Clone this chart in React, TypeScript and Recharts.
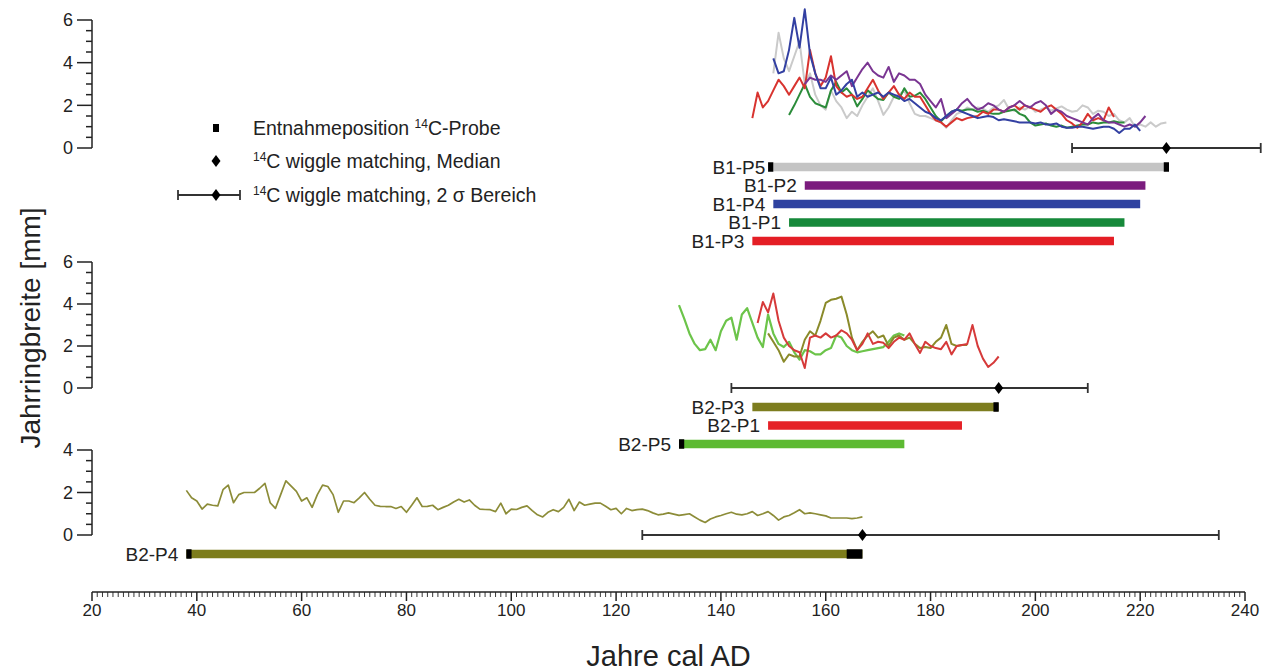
import React from 'react';
import {
  ComposedChart,
  Line,
  XAxis,
  YAxis,
  ReferenceLine,
  ReferenceDot,
  LabelList,
} from 'recharts';

document.body.style.margin = '0';

const W = 1271;
const H = 672;
const PLOT_LEFT = 92;
const PLOT_RIGHT = 1245;
const AXIS_Y = 592;
const X_AXIS_H = 76;
const FONT = '"Liberation Sans", Arial, Helvetica, sans-serif';
const INK = '#222';

// axis ticks
const yearLabels = [20, 40, 60, 80, 100, 120, 140, 160, 180, 200, 220, 240];
const yearMinorStep = 1;
const mmTicks6 = [0, 0.5, 1, 1.5, 2, 2.5, 3, 3.5, 4, 4.5, 5, 5.5, 6];
const mmTicks4 = [0, 0.5, 1, 1.5, 2, 2.5, 3, 3.5, 4];
const mmLabels = [0, 2, 4, 6];

// ring widths [mm], one value per year from the start year
const b1p5Start = 150;
const b1p5Values = [
  3.5, 5.4, 4.2, 3.6, 4.3, 5.0, 3.0, 3.5, 2.5, 2.0,
  1.8, 2.7, 2.2, 1.9, 1.4, 1.7, 1.5, 2.0, 2.4, 2.8,
  2.2, 1.55, 1.9, 2.4, 2.5, 2.7, 2.1, 1.6, 1.5, 1.5,
  1.4, 1.3, 1.2, 0.95, 1.3, 1.6, 1.7, 1.9, 1.8, 1.9,
  1.85, 1.7, 1.9, 2.0, 2.25, 1.8, 1.75, 1.9, 1.8, 1.95,
  1.7, 1.8, 1.9, 1.75, 1.85, 1.95, 1.8, 1.7, 1.75, 2.0,
  1.9, 1.6, 1.75, 1.7, 1.5, 1.6, 1.3, 1.2, 1.4, 1.0,
  1.1, 1.0, 1.2, 1.0, 1.15, 1.2,
];
const b1p2Start = 156;
const b1p2Values = [
  3.0, 3.3, 3.2, 3.2, 3.1, 3.4, 3.2, 3.4, 3.6, 2.9,
  3.3, 3.7, 4.0, 3.6, 3.4, 3.3, 3.8, 3.1, 3.5, 3.4,
  3.2, 3.2, 3.0, 2.5, 2.2, 1.9, 2.3, 1.4, 1.6, 1.8,
  2.1, 2.3, 2.0, 1.8, 1.9, 2.1, 2.0, 1.8, 1.7, 1.9,
  2.0, 2.2, 2.0, 1.9, 2.1, 2.2, 2.0, 1.6, 1.8, 1.7,
  1.5, 1.4, 1.3, 1.2, 1.1, 1.4, 1.6, 1.3, 1.2, 1.2,
  1.1, 1.0, 1.1, 1.0, 1.2, 1.5,
];
const b1p4Start = 150;
const b1p4Values = [
  4.2, 3.5, 3.6, 4.6, 6.1, 4.7, 6.5, 4.4, 3.5, 2.8,
  2.8, 3.3, 2.5, 2.7, 3.0, 3.2, 2.4, 2.6, 2.4, 2.5,
  2.6, 2.4, 2.6, 2.5, 2.4, 2.2, 2.3, 2.1, 1.9, 1.7,
  1.6, 1.4, 1.3, 1.5, 1.7, 1.8, 1.7, 1.6, 1.5, 1.4,
  1.45, 1.5, 1.45, 1.3, 1.35, 1.3, 1.25, 1.2, 1.2, 1.2,
  1.15, 1.2, 1.1, 1.1, 1.15, 1.0, 0.95, 0.95, 1.0, 1.0,
  0.95, 0.9, 0.95, 1.0, 1.0, 0.9, 0.7, 0.9, 0.9, 1.1,
  0.8,
];
const b1p1Start = 153;
const b1p1Values = [
  1.55, 2.0, 2.5, 3.0, 2.4, 2.1, 2.0,
  1.9, 2.7, 3.1, 2.6, 2.8, 2.5, 1.95, 2.3, 2.7, 2.5,
  2.3, 2.25, 2.6, 2.4, 2.3, 2.8, 2.4, 2.45, 2.6, 2.3,
  1.9, 1.5, 1.25, 1.5, 1.7, 1.8, 1.75, 1.8, 1.8, 1.7,
  1.75, 1.65, 1.6, 1.6, 1.7, 1.75, 1.8, 1.6, 1.5, 1.2,
  1.05, 1.1, 1.15, 1.05, 1.0, 1.05, 0.95, 1.0, 1.05, 1.1,
  1.1, 1.2, 1.15, 1.2, 1.2, 1.25, 1.2, 1.2,
];
const b1p3Start = 146;
const b1p3Values = [
  1.4, 2.6, 1.9, 2.2,
  2.7, 3.2, 2.9, 2.5, 2.9, 3.3, 2.8, 4.6, 3.5, 2.9,
  3.3, 4.3, 2.9, 2.6, 2.4, 2.5, 2.3, 2.4, 2.8, 3.2,
  2.7, 2.3, 2.6, 2.9, 2.5, 2.3, 2.6, 2.4, 2.4, 2.0,
  1.6, 1.3, 1.2, 1.0, 1.2, 1.4, 1.3, 1.4, 1.45, 1.5,
  1.7, 1.6, 1.8, 1.8, 1.7, 1.9, 2.0, 1.8, 2.0, 1.9,
  1.8, 1.7, 1.9, 2.0, 1.8, 1.6, 1.3, 1.15, 0.95, 1.2,
  1.6, 1.3, 1.4, 1.3, 1.9, 1.45,
];
const b2p5Start = 132;
const b2p5Values = [
  3.95, 3.3, 2.6, 2.1, 1.8, 1.85, 2.3, 1.8,
  2.7, 3.2, 3.35, 2.3, 3.5, 3.8, 3.1, 2.4, 1.95, 3.5,
  2.6, 2.1, 1.95, 2.2, 1.7, 1.35, 1.8, 1.75, 1.6, 1.6,
  1.8, 1.9, 2.5, 2.4, 2.0, 1.8, 1.7, 1.75, 1.8, 1.85,
  1.9, 1.95, 2.2, 2.5, 2.6, 2.5,
];
const b2p3Start = 149;
const b2p3Values = [
  2.6,
  2.2, 1.8, 1.25, 1.6, 1.5, 1.5, 2.3, 2.7, 2.5, 3.2,
  4.05, 4.2, 4.25, 4.35, 3.5, 2.4, 1.8, 2.2, 2.5, 2.7,
  2.4, 2.5, 2.0, 2.4, 2.5, 2.3, 2.4, 2.1, 1.9, 1.95,
  1.9, 2.2, 2.4, 3.0, 2.1, 2.0, 2.05, 2.05,
];
const b2p1Start = 147;
const b2p1Values = [
  3.1, 4.1, 3.6,
  4.5, 3.2, 2.4, 2.0, 1.8, 1.7, 0.95, 2.4, 2.5, 2.4,
  2.6, 2.4, 2.5, 2.75, 2.6, 2.3, 1.8, 2.1, 2.6, 2.1,
  2.2, 2.15, 1.9, 2.2, 2.4, 2.3, 2.6, 2.1, 1.67, 2.2,
  2.0, 1.9, 1.85, 2.2, 1.6, 2.0, 2.05, 2.1, 3.0, 2.0,
  1.4, 1.0, 1.2, 1.5,
];
const b2p4Start = 38;
const b2p4Values = [
  2.1, 1.75,
  1.6, 1.22, 1.45, 1.4, 1.37, 2.13, 2.35, 1.52, 1.9, 2.0,
  2.0, 2.0, 2.2, 2.43, 1.52, 1.25, 1.9, 2.55, 2.3, 2.05,
  1.6, 1.75, 1.3, 1.9, 2.35, 2.28, 1.9, 1.07, 1.6, 1.6,
  1.52, 1.75, 2.0, 1.68, 1.4, 1.35, 1.34, 1.34, 1.25, 1.34,
  1.07, 1.4, 1.75, 1.34, 1.35, 1.4, 1.19, 1.3, 1.4, 1.55,
  1.68, 1.55, 1.65, 1.4, 1.22, 1.2, 1.19, 1.1, 1.5, 1.0,
  1.22, 1.2, 1.3, 1.37, 1.15, 0.95, 0.85, 1.07, 1.19, 1.1,
  1.3, 1.68, 1.15, 1.55, 1.4, 1.45, 1.5, 1.5, 1.35, 1.19,
  1.25, 1.0, 1.25, 1.15, 1.19, 1.22, 1.15, 1.04, 0.95, 0.98,
  1.04, 0.98, 0.92, 0.96, 1.0, 0.85, 0.7, 0.59, 0.75, 0.85,
  0.92, 1.0, 1.07, 0.98, 0.95, 1.0, 1.1, 0.92, 1.0, 1.1,
  0.92, 0.7, 0.85, 0.92, 1.05, 1.19, 1.0, 1.04, 1.0, 0.95,
  0.9, 0.8, 0.8, 0.8, 0.8, 0.77, 0.8, 0.85,
];

// dated spans of the samples (years AD)
const b1Names = ['B1-P5', 'B1-P2', 'B1-P4', 'B1-P1', 'B1-P3'];
const b1From = [150, 156, 150, 153, 146];
const b1To = [225, 221, 220, 217, 215];
const b2Names = ['B2-P3', 'B2-P1', 'B2-P5'];
const b2From = [146, 149, 132];
const b2To = [193, 186, 175];
const b3Names = ['B2-P4'];
const b3From = [38];
const b3To = [167];

// 14C sample positions [from, to] per row
const b1Samples: [number, number][][] = [[[149, 150], [224.5, 225.5]], [], [], [], []];
const b2Samples: [number, number][][] = [[[192, 193]], [], [[132, 133]]];
const b3Samples: [number, number][][] = [[[38, 39], [164, 167]]];

// 14C wiggle matching: median and 2 sigma range per panel
const wmMedian = [225, 193, 167];
const wmLow = [207, 142, 125];
const wmHigh = [243, 210, 235];

const toSeries = (start: number, values: number[]) =>
  values.map((v, i) => ({ year: start + i, v }));

const yearTicks: number[] = [];
for (let y = yearLabels[0]; y <= yearLabels[yearLabels.length - 1]; y += yearMinorStep) yearTicks.push(y);

function MmTick(props: any) {
  const { y, payload } = props;
  const v = payload.value;
  const major = mmLabels.includes(v);
  return (
    <g>
      <line x1={PLOT_LEFT - (major ? 15 : 6)} x2={PLOT_LEFT} y1={y} y2={y} stroke={INK} strokeWidth={1.5} />
      {major && (
        <text x={PLOT_LEFT - 19} y={y} dy="0.36em" textAnchor="end" fontSize={18} fill={INK}>
          {v}
        </text>
      )}
    </g>
  );
}

function YearTick(props: any) {
  const { x, payload } = props;
  const v = payload.value;
  const major = yearLabels.includes(v);
  return (
    <g>
      <line x1={x} x2={x} y1={AXIS_Y} y2={AXIS_Y + (major ? 9 : 5)} stroke={INK} strokeWidth={major ? 1.5 : 0.9} />
      {major && (
        <text x={x} y={AXIS_Y + 18} dy="0.36em" textAnchor="middle" fontSize={17} fill={INK}>
          {v}
        </text>
      )}
    </g>
  );
}

const rowLabel = (p: any) => {
  if (!p.value) return null;
  const vb = p.viewBox || {};
  const x = vb.x ?? p.x;
  const y = vb.y ?? p.y;
  return (
    <text x={x - 8} y={y} dy="0.36em" textAnchor="end" fontSize={19} fill={INK}>
      {p.value}
    </text>
  );
};

type SeriesDef = { start: number; values: number[]; color: string; width: number };
type PanelProps = {
  idx: number;
  top: number;
  bottom: number;
  zeroY: number;
  pxPerMm: number;
  maxMm: number;
  mmTicks: number[];
  row0Y: number;
  rowGap: number;
  series: SeriesDef[];
  names: string[];
  from: number[];
  to: number[];
  rowColors: string[];
  samples: [number, number][][];
  showX?: boolean;
};

function Panel(p: PanelProps) {
  const mmDomain = [-(p.bottom - p.zeroY) / p.pxPerMm, (p.zeroY - p.top) / p.pxPerMm];
  const rowDomain = [-(p.row0Y - p.top) / p.rowGap, (p.bottom - p.row0Y) / p.rowGap];
  const marginBottom = H - p.bottom - (p.showX ? X_AXIS_H : 0);
  const capH = 5 / p.pxPerMm;
  const med = wmMedian[p.idx];
  const lo = wmLow[p.idx];
  const hi = wmHigh[p.idx];
  return (
    <div style={{ position: 'absolute', left: 0, top: 0 }}>
      <ComposedChart
        width={W}
        height={H}
        margin={{ top: p.top, right: W - PLOT_RIGHT, bottom: marginBottom, left: 0 }}
      >
        <XAxis
          type="number"
          dataKey="year"
          domain={[20, 240]}
          allowDataOverflow
          ticks={yearTicks}
          interval={0}
          tick={(t: any) => <YearTick {...t} />}
          tickLine={false}
          axisLine={{ stroke: INK, strokeWidth: 1.5 }}
          height={X_AXIS_H}
          hide={!p.showX}
          label={{ value: 'Jahre cal AD', position: 'insideBottom', offset: 2, fontSize: 29, fill: INK }}
        />
        <YAxis
          yAxisId="mm"
          type="number"
          domain={mmDomain}
          allowDataOverflow
          ticks={p.mmTicks}
          interval={0}
          width={PLOT_LEFT}
          axisLine={false}
          tickLine={false}
          tick={(t: any) => <MmTick {...t} />}
        />
        <YAxis yAxisId="row" type="number" domain={rowDomain} allowDataOverflow reversed hide />

        {p.series.map((s, i) => (
          <Line
            key={`s-${i}`}
            yAxisId="mm"
            data={toSeries(s.start, s.values)}
            dataKey="v"
            type="linear"
            stroke={s.color}
            strokeWidth={s.width}
            strokeLinejoin="round"
            dot={false}
            activeDot={false}
            isAnimationActive={false}
          />
        ))}

        {p.names.map((name, i) => (
          <Line
            key={`r-${name}`}
            yAxisId="row"
            data={[
              { year: p.from[i], row: i, label: name },
              { year: p.to[i], row: i },
            ]}
            dataKey="row"
            type="linear"
            stroke={p.rowColors[i]}
            strokeWidth={8.5}
            dot={false}
            activeDot={false}
            isAnimationActive={false}
          >
            <LabelList dataKey="label" content={rowLabel} />
          </Line>
        ))}

        {p.samples.map((marks, i) =>
          marks.map((m, j) => (
            <Line
              key={`m-${i}-${j}`}
              yAxisId="row"
              data={[
                { year: m[0], row: i },
                { year: m[1], row: i },
              ]}
              dataKey="row"
              stroke="#000"
              strokeWidth={9.5}
              dot={false}
              activeDot={false}
              isAnimationActive={false}
            />
          ))
        )}

        <ReferenceLine
          yAxisId="mm"
          segment={[{ x: 20, y: 0 }, { x: 20, y: p.maxMm }]}
          stroke={INK}
          strokeWidth={1.5}
          ifOverflow="visible"
        />
        <ReferenceLine
          yAxisId="mm"
          segment={[{ x: lo, y: 0 }, { x: hi, y: 0 }]}
          stroke="#333"
          strokeWidth={2}
          ifOverflow="visible"
        />
        <ReferenceLine
          yAxisId="mm"
          segment={[{ x: lo, y: -capH }, { x: lo, y: capH }]}
          stroke="#333"
          strokeWidth={1.8}
          ifOverflow="visible"
        />
        <ReferenceLine
          yAxisId="mm"
          segment={[{ x: hi, y: -capH }, { x: hi, y: capH }]}
          stroke="#333"
          strokeWidth={1.8}
          ifOverflow="visible"
        />
        <ReferenceDot
          yAxisId="mm"
          x={med}
          y={0}
          ifOverflow="visible"
          shape={(d: any) => (
            <path
              d={`M${d.cx},${d.cy - 6} L${d.cx + 4.5},${d.cy} L${d.cx},${d.cy + 6} L${d.cx - 4.5},${d.cy} Z`}
              fill="#000"
            />
          )}
        />
      </ComposedChart>
    </div>
  );
}

function Overlay() {
  const sup = (s: string) => (
    <>
      <tspan fontSize={12} dy={-7}>
        {s}
      </tspan>
      <tspan dy={7}>C</tspan>
    </>
  );
  return (
    <svg width={W} height={H} style={{ position: 'absolute', left: 0, top: 0 }}>
      <text
        transform="translate(30,328) rotate(-90)"
        textAnchor="middle"
        dy="0.36em"
        fontSize={28}
        fill={INK}
      >
        Jahrringbreite [mm]
      </text>
      <rect x={213} y={124} width={6} height={8} fill="#000" />
      <path d="M216,155 L220.5,161 L216,167 L211.5,161 Z" fill="#000" />
      <line x1={178} x2={240} y1={195} y2={195} stroke="#333" strokeWidth={2} />
      <line x1={178} x2={178} y1={190} y2={200} stroke="#333" strokeWidth={1.8} />
      <line x1={240} x2={240} y1={190} y2={200} stroke="#333" strokeWidth={1.8} />
      <path d="M216,189 L220.5,195 L216,201 L211.5,195 Z" fill="#000" />
      <g fontSize={19.5} fill={INK}>
        <text x={253} y={135}>
          Entnahmeposition {sup('14')}-Probe
        </text>
        <text x={253} y={168}>
          {sup('14')} wiggle matching, Median
        </text>
        <text x={253} y={202}>
          {sup('14')} wiggle matching, 2 σ Bereich
        </text>
      </g>
    </svg>
  );
}

export default function App() {
  return (
    <div style={{ position: 'relative', width: W, height: H, fontFamily: FONT, background: '#fff' }}>
      <Panel
        idx={0}
        top={4}
        bottom={252}
        zeroY={148}
        pxPerMm={128 / 6}
        maxMm={6}
        mmTicks={mmTicks6}
        row0Y={167}
        rowGap={18.5}
        series={[
          { start: b1p5Start, values: b1p5Values, color: '#cacaca', width: 2 },
          { start: b1p1Start, values: b1p1Values, color: '#2b8c3a', width: 2 },
          { start: b1p3Start, values: b1p3Values, color: '#d8332f', width: 2 },
          { start: b1p2Start, values: b1p2Values, color: '#7a3592', width: 2 },
          { start: b1p4Start, values: b1p4Values, color: '#3340a2', width: 2 },
        ]}
        names={b1Names}
        from={b1From}
        to={b1To}
        rowColors={['#c4c4c4', '#7b1c7e', '#2e42a0', '#16893a', '#e41e25']}
        samples={b1Samples}
      />
      <Panel
        idx={1}
        top={255}
        bottom={455}
        zeroY={388}
        pxPerMm={21}
        maxMm={6}
        mmTicks={mmTicks6}
        row0Y={407}
        rowGap={18.5}
        series={[
          { start: b2p5Start, values: b2p5Values, color: '#6cc44a', width: 2.2 },
          { start: b2p3Start, values: b2p3Values, color: '#8a8a2a', width: 2 },
          { start: b2p1Start, values: b2p1Values, color: '#d63a3a', width: 2 },
        ]}
        names={b2Names}
        from={b2From}
        to={b2To}
        rowColors={['#7d7d1f', '#e52228', '#5dba32']}
        samples={b2Samples}
      />
      <Panel
        idx={2}
        top={445}
        bottom={AXIS_Y}
        zeroY={535}
        pxPerMm={21.25}
        maxMm={4}
        mmTicks={mmTicks4}
        row0Y={554}
        rowGap={18.5}
        series={[{ start: b2p4Start, values: b2p4Values, color: '#8c8c38', width: 1.7 }]}
        names={b3Names}
        from={b3From}
        to={b3To}
        rowColors={['#7d7d1c']}
        samples={b3Samples}
        showX
      />
      <Overlay />
    </div>
  );
}
